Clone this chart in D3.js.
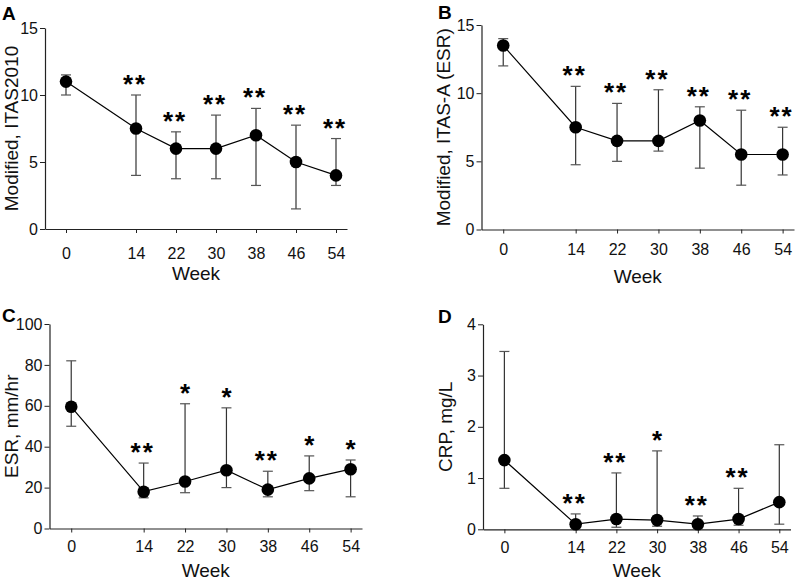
<!DOCTYPE html>
<html>
<head>
<meta charset="utf-8">
<script src="https://cdn.jsdelivr.net/npm/d3@7"></script>
<style>
  html, body { margin: 0; padding: 0; background: #fff; }
  svg { display: block; font-family: Arial, "Liberation Sans", Helvetica, sans-serif; }
</style>
</head>
<body>
<svg id="chart" width="796" height="580"></svg>
<script>
// ---- data ----
const weeks = [0, 14, 22, 30, 38, 46, 54];

const itasMean = [11, 7.5, 6, 6, 7, 5, 4];
const itasLow  = [10, 4, 3.75, 3.75, 3.25, 1.5, 3.25];
const itasHigh = [11.5, 10, 7.25, 8.5, 9, 7.75, 6.75];
const itasSig  = ["", "**", "**", "**", "**", "**", "**"];

const itasaMean = [13.5, 7.5, 6.5, 6.5, 8, 5.5, 5.5];
const itasaLow  = [12, 4.75, 5, 5.75, 4.5, 3.25, 4];
const itasaHigh = [14, 10.5, 9.25, 10.25, 9, 8.75, 7.5];
const itasaSig  = ["", "**", "**", "**", "**", "**", "**"];

const esrMean = [59.5, 18, 23, 28.5, 19, 24.5, 29];
const esrLow  = [50, 15, 17.5, 20, 15.5, 18.5, 15.5];
const esrHigh = [82, 32, 61, 59, 28, 35.5, 33.5];
const esrSig  = ["", "**", "*", "*", "**", "*", "*"];

const crpMean = [1.35, 0.1, 0.2, 0.18, 0.1, 0.2, 0.53];
const crpLow  = [0.8, 0.03, 0.04, 0.06, 0.03, 0.08, 0.1];
const crpHigh = [3.47, 0.3, 1.1, 1.53, 0.26, 0.8, 1.65];
const crpSig  = ["", "**", "**", "*", "**", "**", ""];

const itasTicks = [0, 5, 10, 15];
const esrTicks = [0, 20, 40, 60, 80, 100];
const crpTicks = [0, 1, 2, 3, 4];

const panels = [
  { letter: "A", ylabel: "Modified, ITAS2010", mean: itasMean, low: itasLow, high: itasHigh, sig: itasSig,
    yMax: 15, yTicks: itasTicks,
    x0: 45, x1: 347, y0: 229, y1: 28, letterX: 2, letterY: 20, ylabX: 18, weekY: 280, tickPad: 15 },
  { letter: "B", ylabel: "Modified, ITAS-A (ESR)", mean: itasaMean, low: itasaLow, high: itasaHigh, sig: itasaSig,
    yMax: 15, yTicks: itasTicks,
    x0: 481.5, x1: 794, y0: 229.5, y1: 25, letterX: 438, letterY: 19, ylabX: 450, weekY: 283, tickPad: 10 },
  { letter: "C", ylabel: "ESR, mm/hr", mean: esrMean, low: esrLow, high: esrHigh, sig: esrSig,
    yMax: 100, yTicks: esrTicks,
    x0: 49.5, x1: 362, y0: 528.5, y1: 324, letterX: 2, letterY: 322, ylabX: 18, weekY: 577, tickPad: 8 },
  { letter: "D", ylabel: "CRP, mg/L", mean: crpMean, low: crpLow, high: crpHigh, sig: crpSig,
    yMax: 4, yTicks: crpTicks,
    x0: 483, x1: 790.5, y0: 529.3, y1: 324.3, letterX: 438, letterY: 323, ylabX: 452, weekY: 577, tickPad: 8 }
];

const svg = d3.select("#chart");
const axisColor = "#222";
const fontFam = 'Arial, "Liberation Sans", Helvetica, sans-serif';

panels.forEach(p => {
  const g = svg.append("g");
  const x = d3.scaleLinear().domain([-4.2, 56.2]).range([p.x0, p.x1]);
  const y = d3.scaleLinear().domain([0, p.yMax]).range([p.y0, p.y1]);

  // axes
  const xAxis = d3.axisBottom(x).tickValues(weeks).tickSize(4).tickSizeOuter(0).tickPadding(p.tickPad)
    .tickFormat(d3.format("d"));
  const yAxis = d3.axisLeft(y).tickValues(p.yTicks).tickSize(5).tickSizeOuter(0).tickPadding(2)
    .tickFormat(d3.format("d"));

  const gx = g.append("g").attr("transform", `translate(0,${p.y0})`).call(xAxis);
  const gy = g.append("g").attr("transform", `translate(${p.x0},0)`).call(yAxis);
  [gx, gy].forEach(a => {
    a.select(".domain").attr("stroke", axisColor).attr("stroke-width", 1.2);
    a.selectAll(".tick line").attr("stroke", axisColor).attr("stroke-width", 1);
    a.selectAll(".tick text").attr("fill", "#111").style("font-size", "16px")
      .style("font-family", fontFam);
  });

  // labels
  g.append("text").attr("x", p.letterX).attr("y", p.letterY).text(p.letter)
    .style("font-size", "19px").style("font-weight", "bold").attr("fill", "#000");
  g.append("text").attr("transform", `translate(${p.ylabX},${(p.y0 + p.y1) / 2}) rotate(-90)`)
    .attr("text-anchor", "middle").style("font-size", "19px").attr("fill", "#111").text(p.ylabel);
  g.append("text").attr("x", (p.x0 + p.x1) / 2).attr("y", p.weekY).attr("text-anchor", "middle")
    .style("font-size", "19px").attr("fill", "#111").text("Week");

  const rows = weeks.map((w, i) => ({ w, m: p.mean[i], lo: p.low[i], hi: p.high[i], s: p.sig[i] }));

  // connecting line
  g.append("path").datum(rows)
    .attr("d", d3.line().x(d => x(d.w)).y(d => y(d.m)))
    .attr("fill", "none").attr("stroke", "#000").attr("stroke-width", 1.2);

  // error bars
  const eb = g.selectAll(".eb").data(rows).enter().append("g");
  eb.append("line").attr("x1", d => x(d.w)).attr("x2", d => x(d.w))
    .attr("y1", d => y(d.lo)).attr("y2", d => y(d.hi))
    .attr("stroke", "#333").attr("stroke-width", 1.2);
  eb.append("line").attr("x1", d => x(d.w) - 5).attr("x2", d => x(d.w) + 5)
    .attr("y1", d => y(d.hi)).attr("y2", d => y(d.hi))
    .attr("stroke", "#555").attr("stroke-width", 1.2);
  eb.append("line").attr("x1", d => x(d.w) - 5).attr("x2", d => x(d.w) + 5)
    .attr("y1", d => y(d.lo)).attr("y2", d => y(d.lo))
    .attr("stroke", "#555").attr("stroke-width", 1.2);

  // markers
  g.selectAll(".pt").data(rows).enter().append("circle")
    .attr("cx", d => x(d.w)).attr("cy", d => y(d.m)).attr("r", 6.3).attr("fill", "#000");

  // significance stars
  g.selectAll(".sig").data(rows.filter(d => d.s)).enter().append("text")
    .attr("x", d => x(d.w)).attr("y", d => y(d.hi) - 17 + 15)
    .attr("text-anchor", "middle").style("font-size", "26px").style("font-weight", "bold")
    .style("letter-spacing", "2px").attr("dx", d => d.s.length > 1 ? -1 : 1)
    .attr("fill", "#000").text(d => d.s);
});
</script>
</body>
</html>
